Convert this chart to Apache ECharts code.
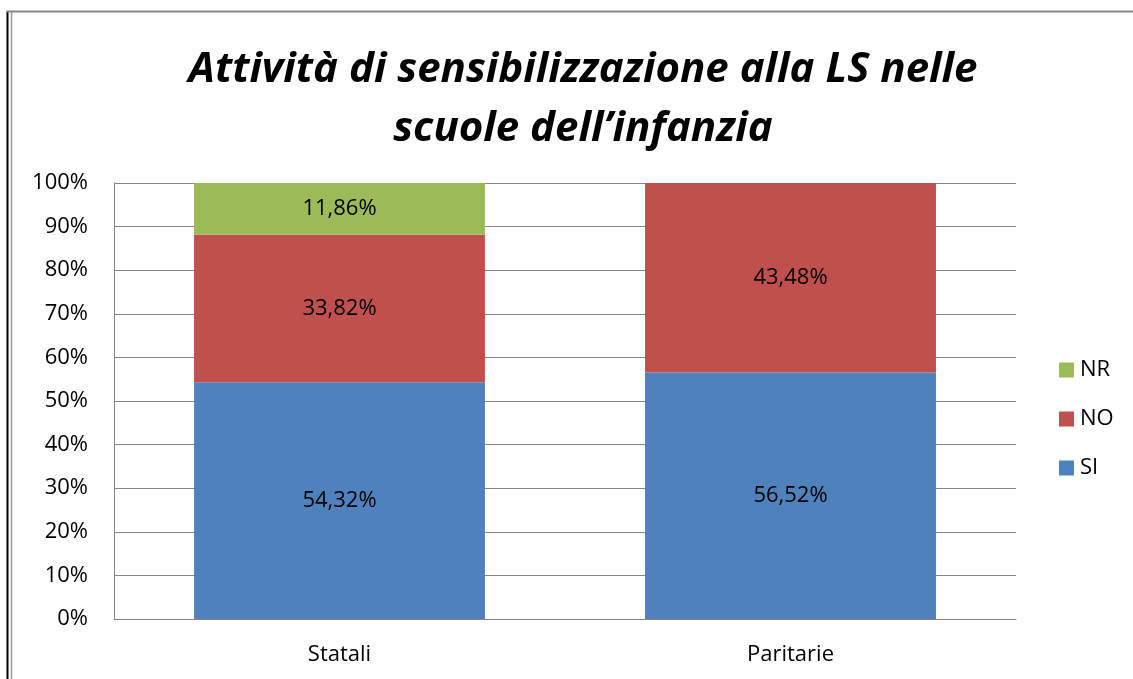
<!DOCTYPE html>
<html><head><meta charset="utf-8">
<script src="https://cdn.jsdelivr.net/npm/echarts@6/dist/echarts.min.js"></script>
<style>html,body{margin:0;padding:0;background:#fff;}#c{width:1133px;height:679px;}</style>
</head><body><div id="c"></div>
<script>
const categories = ['Statali', 'Paritarie'];
const siValues = [54.32, 56.52];
const noValues = [33.82, 43.48];
const nrValues = [11.86, 0];
const yTicks = [0, 10, 20, 30, 40, 50, 60, 70, 80, 90, 100];

const FONT = '"Open Sans", Lato, sans-serif';
function fmt(p) {
  if (!p.value) return '';
  return p.value.toFixed(2).replace('.', ',') + '%';
}
const labelCfg = { show: true, position: 'inside', formatter: fmt, color: '#000', fontSize: 22, fontFamily: FONT };

const chart = echarts.init(document.getElementById('c'), null, { renderer: 'canvas' });
chart.setOption({
  animation: false,
  title: {
    text: 'Attività di sensibilizzazione alla LS nelle\nscuole dell’infanzia',
    left: 578, top: 36, textAlign: 'center',
    textStyle: { fontSize: 42, fontWeight: 'bold', fontStyle: 'italic', color: '#000', fontFamily: FONT, lineHeight: 59 }
  },
  legend: {
    data: ['NR', 'NO', 'SI'],
    orient: 'vertical', left: 1054, top: 354,
    itemWidth: 15, itemHeight: 15, itemGap: 27,
    icon: 'rect',
    textStyle: { fontSize: 22, color: '#000', fontFamily: FONT, lineHeight: 15, padding: [0, 0, 0, 1] }
  },
  grid: { left: 114, right: 117, top: 183, bottom: 60 },
  xAxis: {
    type: 'category', data: categories,
    axisLine: { show: true, lineStyle: { color: '#868686', width: 1 } },
    axisTick: { show: false },
    axisLabel: { fontSize: 22, color: '#000', fontFamily: FONT, margin: 25 }
  },
  yAxis: {
    type: 'value', min: 0, max: 100, interval: 10,
    axisLine: { show: true, lineStyle: { color: '#868686', width: 1 } },
    axisTick: { show: false },
    splitLine: { show: true, lineStyle: { color: '#868686', width: 1 } },
    axisLabel: { fontSize: 22, color: '#000', fontFamily: FONT, margin: 26, padding: [4, 0, 0, 0],
      formatter: v => yTicks.includes(v) ? v + '%' : '' }
  },
  series: [
    { name: 'SI', type: 'bar', stack: 's', data: siValues, barWidth: '64.5%', itemStyle: { color: '#4F81BD' }, label: labelCfg },
    { name: 'NO', type: 'bar', stack: 's', data: noValues, itemStyle: { color: '#C0504D' }, label: labelCfg },
    { name: 'NR', type: 'bar', stack: 's', data: nrValues, itemStyle: { color: '#9BBB59' }, label: labelCfg }
  ],
  graphic: [
    { type: 'line', shape: { x1: 7.5, y1: 11, x2: 7.5, y2: 679 }, style: { stroke: '#000', lineWidth: 2 } },
    { type: 'line', shape: { x1: 11.5, y1: 12, x2: 11.5, y2: 679 }, style: { stroke: '#999', lineWidth: 1.5 } },
    { type: 'line', shape: { x1: 7, y1: 11.5, x2: 1133, y2: 11.5 }, style: { stroke: '#888', lineWidth: 2 } }
  ]
});
</script></body></html>
